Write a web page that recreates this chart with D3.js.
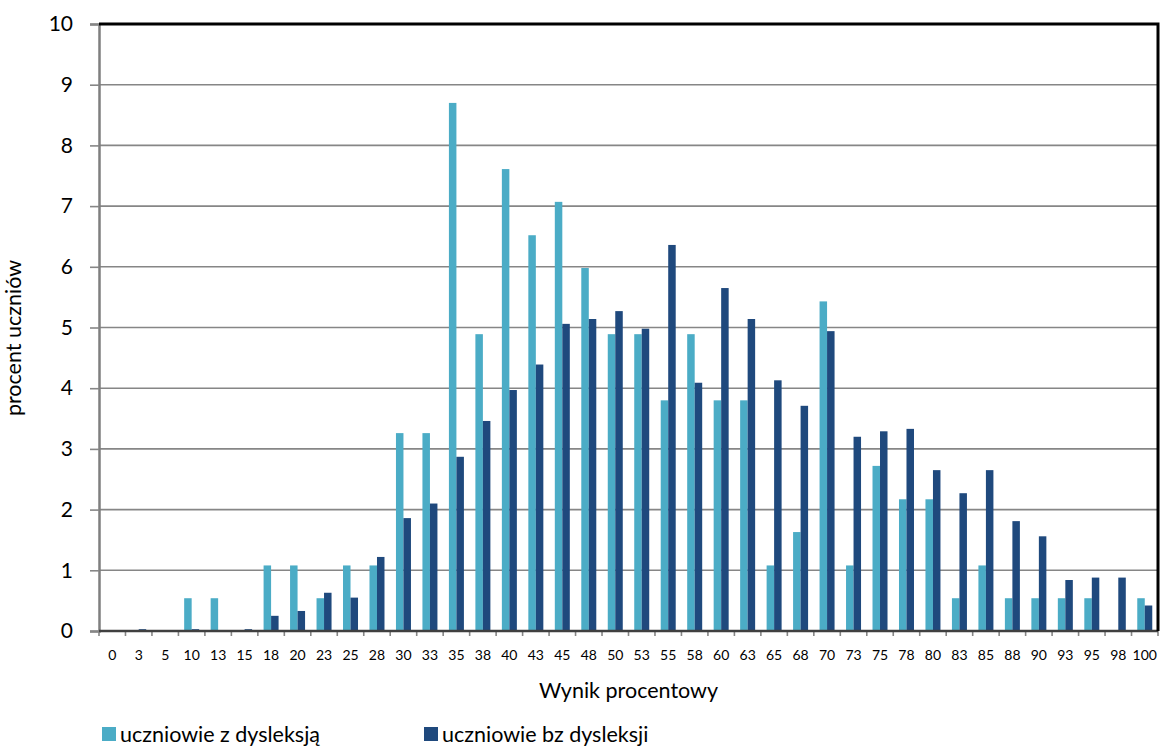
<!DOCTYPE html>
<html><head><meta charset="utf-8">
<script src="https://cdn.jsdelivr.net/npm/d3@7"></script>
<style>body{margin:0;background:#fff}svg{display:block}text{font-family:Lato,"Open Sans",sans-serif;fill:#000}</style>
</head><body>
<script>
const categories = ["0","3","5","10","13","15","18","20","23","25","28","30","33","35","38","40","43","45","48","50","53","55","58","60","63","65","68","70","73","75","78","80","83","85","88","90","93","95","98","100"];
const withDyslexia = [0,0,0,0.54,0.54,0,1.08,1.08,0.54,1.08,1.08,3.26,3.26,8.70,4.89,7.61,6.52,7.07,5.98,4.89,4.89,3.80,4.89,3.80,3.80,1.08,1.63,5.43,1.08,2.72,2.17,2.17,0.54,1.08,0.54,0.54,0.54,0.54,0,0.54];
const withoutDyslexia = [0,0.03,0,0.03,0,0.03,0.25,0.33,0.63,0.55,1.22,1.86,2.10,2.87,3.46,3.97,4.39,5.06,5.14,5.27,4.98,6.36,4.09,5.65,5.14,4.13,3.71,4.94,3.20,3.29,3.33,2.65,2.27,2.65,1.81,1.56,0.84,0.88,0.88,0.42];
const seriesNames = ["uczniowie z dysleksją","uczniowie bz dysleksji"];
const yTicks = [0,1,2,3,4,5,6,7,8,9,10];

(function(){
const W=1161,H=746;
const pL=99,pR=1158,pT=24,pB=631;
const colors=["#4BACC6","#1F497D"];
const svg=d3.select("body").append("svg").attr("width",W).attr("height",H);

const x=d3.scaleBand().domain(categories).range([pL,pR]).paddingInner(0).paddingOuter(0);
const xs=d3.scaleBand().domain([0,1]).range([0,x.bandwidth()]).paddingInner(0).paddingOuter(0.765);
const y=d3.scaleLinear().domain([0,10]).range([pB,pT]);

svg.append("g").selectAll("line").data(yTicks.filter(d=>d>0&&d<10)).join("line")
 .attr("x1",pL).attr("x2",pR).attr("y1",d=>y(d)).attr("y2",d=>y(d))
 .attr("stroke","#868686").attr("stroke-width",1.6);

const series=[withDyslexia,withoutDyslexia];
series.forEach((vals,si)=>{
  svg.append("g").selectAll("rect").data(vals).join("rect")
   .attr("x",(d,i)=>x(categories[i])+xs(si))
   .attr("width",xs.bandwidth())
   .attr("y",d=>y(d))
   .attr("height",d=>pB-y(d))
   .attr("fill",colors[si]);
});

const yAxis=d3.axisLeft(y).tickValues(yTicks).tickSize(9).tickPadding(17).tickFormat(d3.format("d"));
const gy=svg.append("g").attr("transform",`translate(${pL},0)`).call(yAxis);
gy.select(".domain").attr("stroke","#7f7f7f").attr("stroke-width",2.5);
gy.selectAll(".tick line").attr("stroke","#868686").attr("stroke-width",1.6);
gy.selectAll(".tick text").attr("font-size",21).attr("font-family","Lato,'Open Sans',sans-serif").attr("fill","#000");

const xAxis=d3.axisBottom(x).tickSize(0).tickPadding(19);
const gx=svg.append("g").attr("transform",`translate(0,${pB})`).call(xAxis);
gx.select(".domain").remove();
gx.selectAll(".tick text").attr("font-size",14).attr("font-family","Lato,'Open Sans',sans-serif").attr("fill","#000");
svg.append("g").selectAll("line").data(categories.concat(["__end"])).join("line")
 .attr("x1",(d,i)=>pL+i*x.step()).attr("x2",(d,i)=>pL+i*x.step())
 .attr("y1",pB).attr("y2",pB+5).attr("stroke","#868686").attr("stroke-width",1.6);
svg.append("line").attr("x1",pL).attr("x2",pR).attr("y1",pB).attr("y2",pB)
 .attr("stroke","#404040").attr("stroke-width",2.5);

svg.append("path").attr("d",`M${pL},${pT}H${pR}V${pB}`).attr("fill","none")
 .attr("stroke","#000").attr("stroke-width",3);

svg.append("text").attr("x",(pL+pR)/2).attr("y",698).attr("text-anchor","middle")
 .attr("font-size",21.5).text("Wynik procentowy");
svg.append("text").attr("transform","translate(21,338) rotate(-90)").attr("text-anchor","middle")
 .attr("font-size",21.5).text("procent uczniów");

const legX=[102,424];
seriesNames.forEach((n,i)=>{
  svg.append("rect").attr("x",legX[i]).attr("y",727).attr("width",14).attr("height",14).attr("fill",colors[i]);
  svg.append("text").attr("x",legX[i]+18).attr("y",742).attr("font-size",21.5).text(n);
});
})();
</script>
</body></html>
